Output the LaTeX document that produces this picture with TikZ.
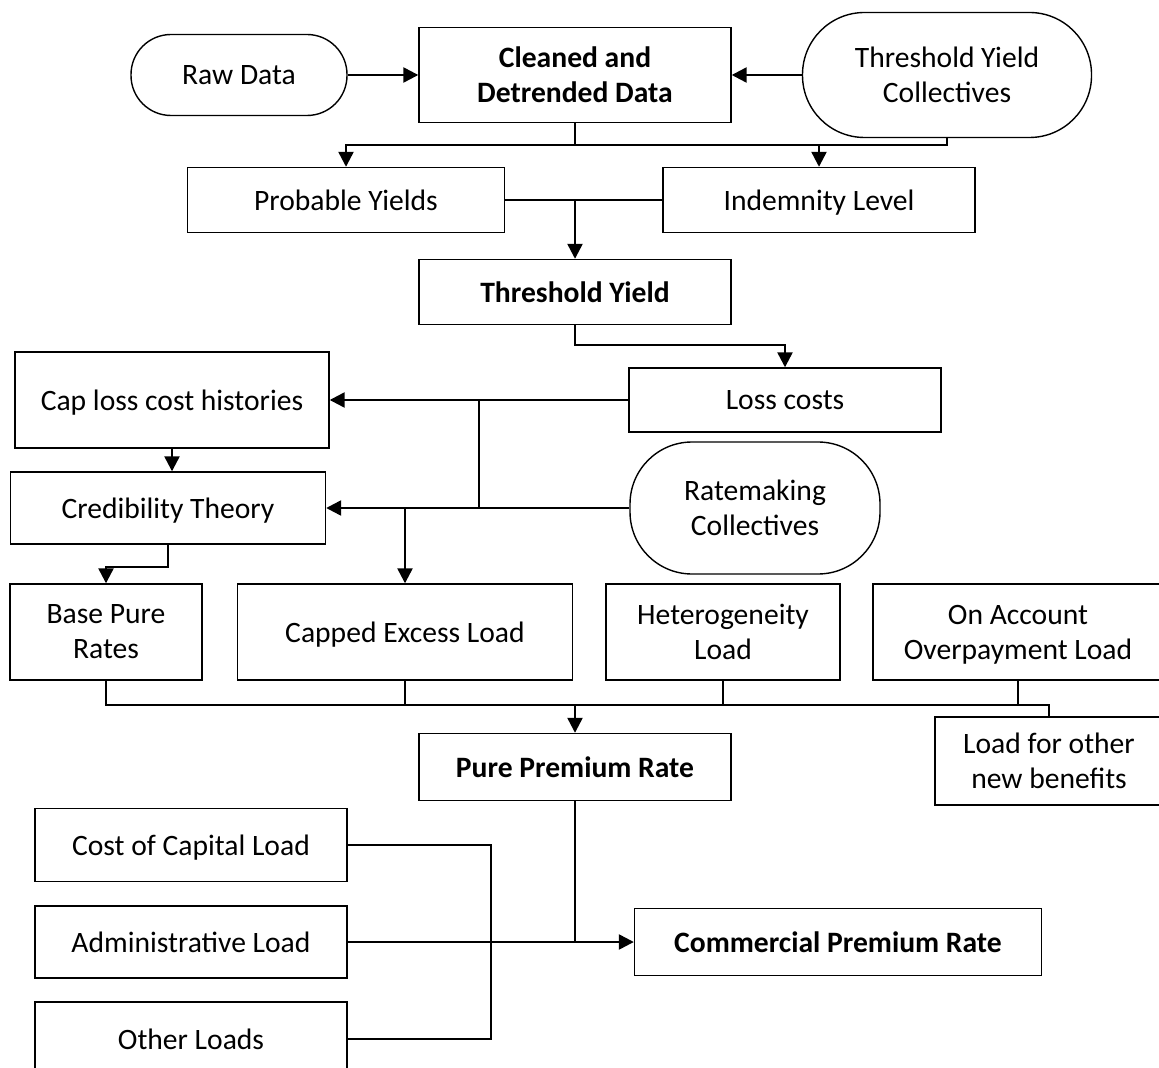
\documentclass[tikz,border=0pt]{standalone}
\usepackage{fontspec}
\setmainfont{Carlito}
\usetikzlibrary{arrows.meta,calc}

\begin{document}
\begin{tikzpicture}
[
    x=0.5pt, y=-0.5pt,
    every node/.style={font=\fontsize{14.8}{17.5}\selectfont, align=center, inner sep=2pt, text depth=0pt},
    box/.style={draw, line width=0.7pt, minimum width=#1},
    box/.default=156pt,
    pill/.style={draw, line width=0.7pt, rounded corners=#1},
    link/.style={line width=1.2pt},
    go/.style={link, -{Triangle[length=7.5pt,width=7.5pt]}},
]
\useasboundingbox (0,0) rectangle (1159,1068);

\node [pill=20pt, minimum width=108pt, minimum height=40.5pt] (raw) at (239,75) {Raw Data};
\node [box, minimum height=47.5pt, font=\fontsize{14.8}{17.5}\selectfont\bfseries] (clean) at (575,75) {Cleaned and\\Detrended Data};
\node [pill=31pt, minimum width=144.5pt, minimum height=62.5pt] (tyc) at (947,75) {Threshold Yield\\Collectives};
\node [box=158.5pt, minimum height=32.5pt] (prob) at (346,200) {Probable Yields};
\node [box, minimum height=32.5pt] (indem) at (819,200) {Indemnity Level};
\node [box, minimum height=32.5pt, font=\fontsize{14.8}{17.5}\selectfont\bfseries] (thresh) at (575,292) {Threshold Yield};
\node [box, minimum height=32pt] (loss) at (785,400) {Loss costs};
\node [box=157pt, minimum height=48pt] (cap) at (172,400) {Cap loss cost histories};
\node [pill=31pt, minimum width=125pt, minimum height=66pt] (rate) at (755,508) {Ratemaking\\Collectives};
\node [box=157.5pt, minimum height=36pt] (cred) at (168,508) {Credibility Theory};
\node [box=96pt, minimum height=48pt] (base) at (106,632) {Base Pure\\Rates};
\node [box=167.5pt, minimum height=48pt] (capped) at (405,632) {Capped Excess Load};
\node [box=117pt, minimum height=48pt] (het) at (723,632) {Heterogeneity\\Load};
\node [box=145pt, minimum height=48pt] (onacc) at (1018,632) {On Account\\Overpayment Load};
\node [box=114pt, minimum height=44pt] (newben) at (1049,761) {Load for other\\new benefits};
\node [box, minimum height=33.5pt, font=\fontsize{14.8}{17.5}\selectfont\bfseries] (pure) at (575,767) {Pure Premium Rate};
\node [box=156pt, minimum height=36.5pt] (coc) at (191,845) {Cost of Capital Load};
\node [box=156pt, minimum height=36pt] (admin) at (191,942) {Administrative Load};
\node [box=156pt, minimum height=37pt] (oload) at (191,1039) {Other Loads};
\node [box=203.5pt, minimum height=33.5pt, font=\fontsize{14.8}{17.5}\selectfont\bfseries] (comm) at (838,942) {Commercial Premium Rate};

\coordinate (b1) at (575,145);
\coordinate (j1) at ($(cap.east)!0.5!(loss.west)$);
\coordinate (b2) at (575,705);
\coordinate (j3) at (491,942);

\draw [go] (raw) -- (clean);
\draw [go] (tyc) -- (clean);
\draw [link] (clean) -- (b1) -| (tyc.south);
\draw [go] (b1) -| (prob.north);
\draw [go] (indem.north |- b1) -- (indem.north);
\draw [link] (prob) -- (indem);
\draw [go] (prob.east -| thresh.north) -- (thresh);
\draw [go] (thresh.south) -- ++(0,20) -| (loss.north);
\draw [go] (loss) -- (cap);
\draw [go] (rate) -- (cred);
\draw [link] (j1) -- (j1 |- cred.east);
\draw [go] (capped.north |- cred.east) -- (capped.north);
\draw [go] (cap.south) -- (cap.south |- cred.north);
\draw [go] (cred.south) -- ++(0,22) -| (base.north);
\draw [link] (base.south) |- (b2) -| (newben.north);
\draw [link] (capped.south) -- (capped.south |- b2);
\draw [link, line width=0.7pt] (het.south) -- (het.south |- b2);
\draw [link] (onacc.south) -- (onacc.south |- b2);
\draw [go] (b2) -- (pure);
\draw [link] (pure.south) -- (pure.south |- comm.west);
\draw [go] (admin) -- (comm);
\draw [link] (coc.east) -| (j3) |- (oload.east);
\end{tikzpicture}
\end{document}
